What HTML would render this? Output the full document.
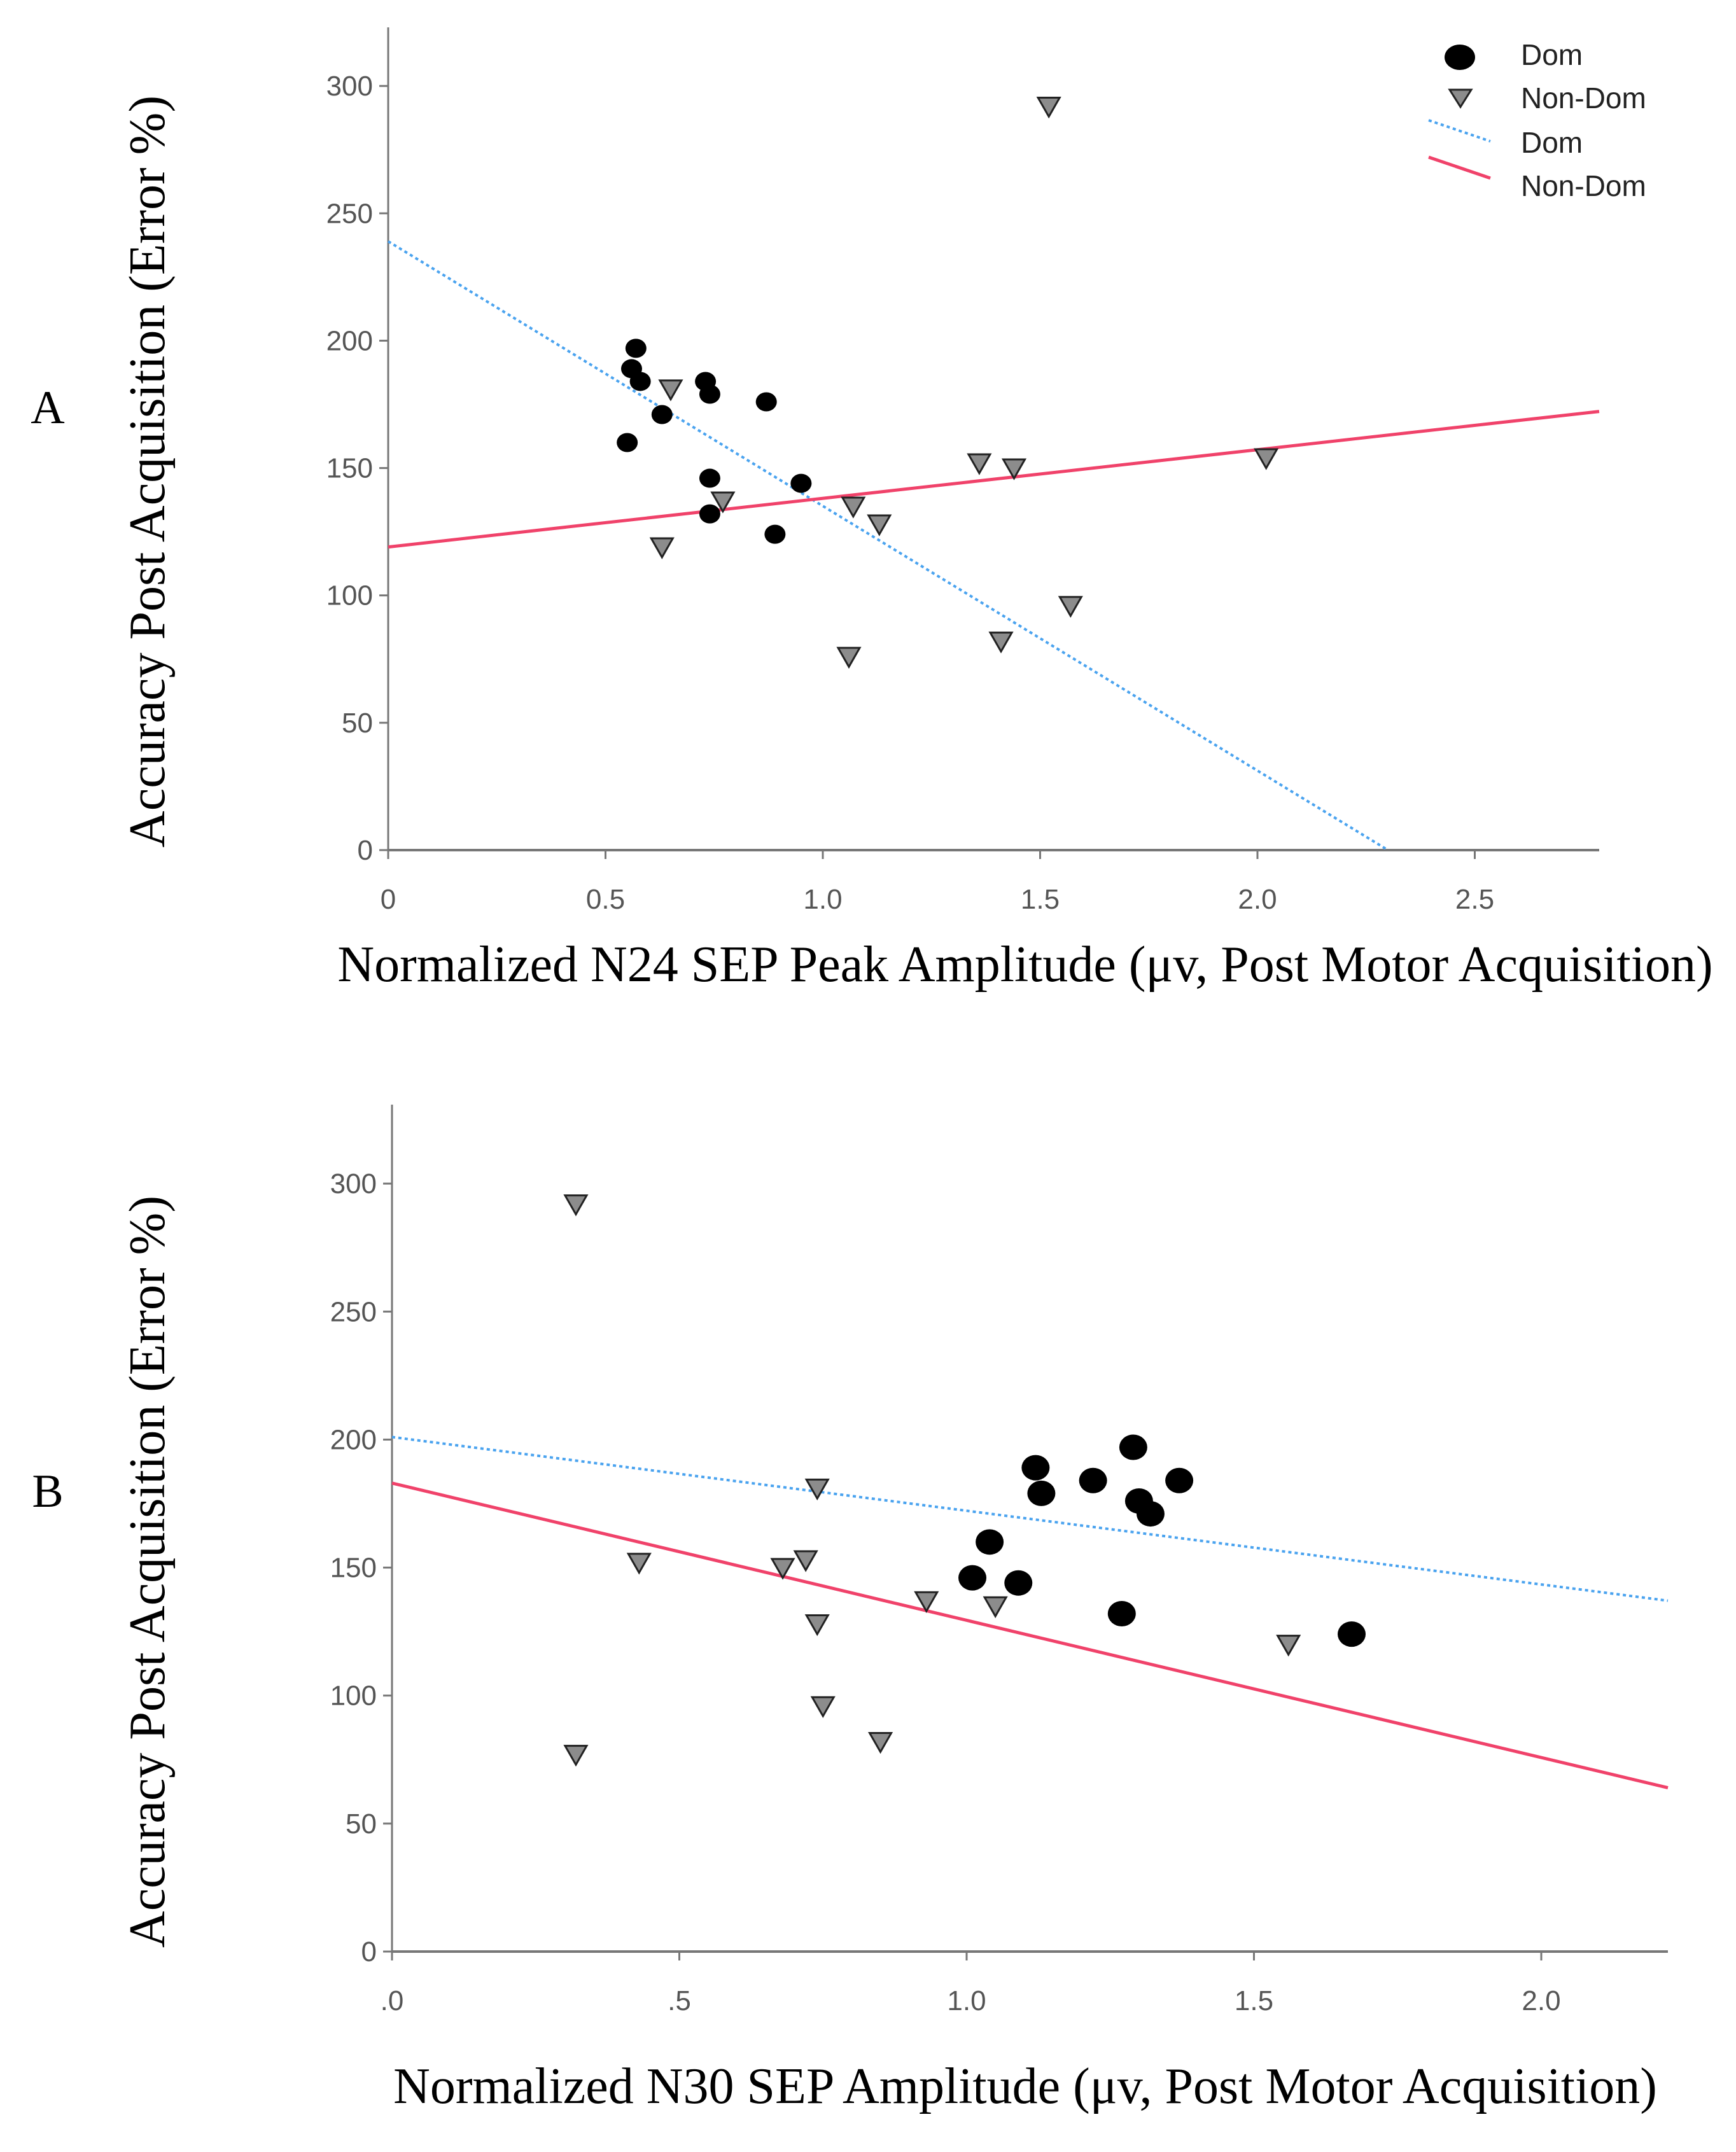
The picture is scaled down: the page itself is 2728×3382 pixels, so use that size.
<!DOCTYPE html>
<html><head><meta charset="utf-8"><style>
html,body{margin:0;padding:0;background:#fff;}
svg{display:block;}
.tick{font-family:"Liberation Sans",sans-serif;font-size:44px;fill:#555;}
.title{font-family:"Liberation Serif",serif;font-size:80px;fill:#000;}
.plabel{font-family:"Liberation Serif",serif;font-size:74px;fill:#000;}
.leg{font-family:"Liberation Sans",sans-serif;font-size:46px;fill:#222;}
</style></head><body>
<svg id="chart" width="2728" height="3382" viewBox="0 0 2728 3382" xmlns="http://www.w3.org/2000/svg"></svg>
<script>
// Panel A data
const aDomX=[0.57,0.56,0.58,0.73,0.74,0.87,0.63,0.55,0.74,0.95,0.74,0.89];
const aDomY=[197,189,184,184,179,176,171,160,146,144,132,124];
const aNonX=[1.52,0.65,1.36,1.44,2.02,0.77,1.07,1.13,0.63,1.57,1.41,1.06];
const aNonY=[292,181,152,150,154,137,135,128,119,96,82,76];
const aDomFit=[239,-103.9]; // intercept, slope
const aNonFit=[119,19.1];
const aXTicks=[0,0.5,1.0,1.5,2.0,2.5];
const aXLabels=["0","0.5","1.0","1.5","2.0","2.5"];
// Panel B data
const bDomX=[1.12,1.29,1.13,1.22,1.37,1.30,1.32,1.04,1.01,1.09,1.27,1.67];
const bDomY=[189,197,179,184,184,176,171,160,146,144,132,124];
const bNonX=[0.32,0.74,0.43,0.68,0.72,0.93,1.05,0.74,1.56,0.75,0.85,0.32];
const bNonY=[292,181,152,150,153,137,135,128,120,96,82,77];
const bDomFit=[201,-28.8];
const bNonFit=[183,-53.6];
const bXTicks=[0,0.5,1.0,1.5,2.0];
const bXLabels=[".0",".5","1.0","1.5","2.0"];
const yTicks=[0,50,100,150,200,250,300];

const svg=document.getElementById('chart');
const NS='http://www.w3.org/2000/svg';
function mk(tag,attrs,parent){const e=document.createElementNS(NS,tag);for(const k in attrs)e.setAttribute(k,attrs[k]);(parent||svg).appendChild(e);return e;}

function panel(p){
  const g=mk('g',{});
  
  
  const sx=v=>p.x0+v*p.xs, sy=v=>p.y0-v*p.ys;
  const xmax=(p.xend-p.x0)/p.xs;
  const ax=mk('line',{x1:p.x0,y1:p.ytop,x2:p.x0,y2:p.y0,stroke:'#777','stroke-width':3},g);
  
  const bx=mk('line',{x1:p.x0,y1:p.y0,x2:p.xend,y2:p.y0,stroke:'#777','stroke-width':4},g);
  
  yTicks.forEach(t=>{
    mk('line',{x1:p.x0-14,y1:sy(t),x2:p.x0,y2:sy(t),stroke:'#777','stroke-width':3},g);
    const tx=mk('text',{x:p.x0-24,y:sy(t)+15,'text-anchor':'end',class:'tick'},g);
    tx.textContent=t;
    
  });
  p.xt.forEach((t,i)=>{
    mk('line',{x1:sx(t),y1:p.y0,x2:sx(t),y2:p.y0+14,stroke:'#777','stroke-width':3},g);
    const tx=mk('text',{x:sx(t),y:p.y0+92,'text-anchor':'middle',class:'tick'},g);
    tx.textContent=p.xl[i];
    
  });
  function fit(f,color,dash,name){
    let x2=xmax,y2=f[0]+f[1]*xmax;
    if(y2<0){x2=-f[0]/f[1];y2=0;}
    const l=mk('line',{x1:sx(0),y1:sy(f[0]),x2:sx(x2),y2:sy(y2),stroke:color,'stroke-width':dash?4:5},g);
    if(dash)l.setAttribute('stroke-dasharray','5 5');
    
  }
  fit(p.domFit,'#4aa3ef',true,'dom-fit-line');
  fit(p.nonFit,'#f0426a',false,'non-dom-fit-line');
  p.nx.forEach((x,i)=>{
    const cx=sx(x),cy=sy(p.ny[i]),s=p.tri;
    const t=mk('polygon',{points:`${cx-s},${cy-s*0.8} ${cx+s},${cy-s*0.8} ${cx},${cy+s*0.95}`,fill:'#8c8c8c',stroke:'#222','stroke-width':3},g);
    
  });
  p.dx.forEach((x,i)=>{
    const c=mk('ellipse',{cx:sx(x),cy:sy(p.dy[i]),rx:p.r*1.1,ry:p.r,fill:'#000'},g);
    
  });
  const yt=mk('text',{x:0,y:0,'text-anchor':'middle',class:'title',transform:`translate(${p.ytx},${p.yty}) rotate(-90)`},g);
  yt.textContent='Accuracy Post Acquisition (Error %)';
  
  const xt=mk('text',{x:p.xtx,y:p.xty,'text-anchor':'middle',class:'title'},g);
  xt.textContent=p.xtitle;
  
  const pl=mk('text',{x:75,y:p.ply,'text-anchor':'middle',class:'plabel'},g);
  pl.textContent=p.label;
  
}
panel({name:'panel-a',x0:610,y0:1336,ys:4.003,xs:683,xend:2513,ytop:43,
  dx:aDomX,dy:aDomY,nx:aNonX,ny:aNonY,domFit:aDomFit,nonFit:aNonFit,xt:aXTicks,xl:aXLabels,
  r:15,tri:17,ytx:258,yty:741,xtx:1611,xty:1542,xtitle:'Normalized N24 SEP Peak Amplitude (μv, Post Motor Acquisition)',label:'A',ply:665});
panel({name:'panel-b',x0:616,y0:3067,ys:4.023,xs:903,xend:2621,ytop:1736,
  dx:bDomX,dy:bDomY,nx:bNonX,ny:bNonY,domFit:bDomFit,nonFit:bNonFit,xt:bXTicks,xl:bXLabels,
  r:20,tri:17,ytx:258,yty:2470,xtx:1611,xty:3305,xtitle:'Normalized N30 SEP Amplitude (μv, Post Motor Acquisition)',label:'B',ply:2368});
const lg=mk('g',{});

mk('ellipse',{cx:2294,cy:90,rx:24,ry:20,fill:'#000'},lg);
mk('polygon',{points:'2278,141 2312,141 2295,168',fill:'#8c8c8c',stroke:'#222','stroke-width':3},lg);
mk('line',{x1:2245,y1:189,x2:2342,y2:222,stroke:'#4aa3ef','stroke-width':4,'stroke-dasharray':'5 5'},lg);
mk('line',{x1:2245,y1:247,x2:2342,y2:280,stroke:'#f0426a','stroke-width':5},lg);
[['Dom',102],['Non-Dom',170],['Dom',240],['Non-Dom',308]].forEach(([t,y])=>{
  const e=mk('text',{x:2390,y:y,class:'leg'},lg);e.textContent=t;
  
});
</script>
</body></html>
